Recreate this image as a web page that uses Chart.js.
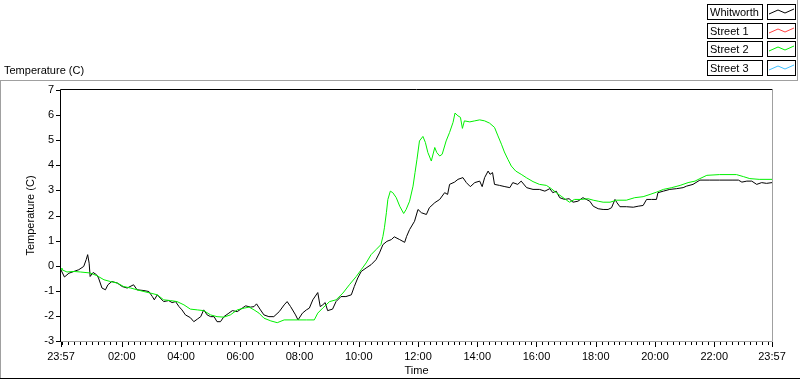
<!DOCTYPE html>
<html>
<head>
<meta charset="utf-8">
<script src="https://cdn.jsdelivr.net/npm/chart.js@4/dist/chart.umd.min.js"></script>
<style>
  html, body { margin: 0; padding: 0; background: #fff; }
  body { width: 800px; height: 380px; position: relative; overflow: hidden;
         font-family: "Liberation Sans", Arial, sans-serif; font-size: 11px; color: #000; }
  #chart { position: absolute; left: 0; top: 0; }
  .line { position: absolute; }
  #ytop { position: absolute; left: 4px; top: 64px; white-space: nowrap; }
  .lgRow { position: absolute; left: 707px; height: 15px; }
  .lgName { position: absolute; left: 0; top: 0; border: 1px solid #000;
            line-height: 14px; padding-left: 2px; box-sizing: border-box; width: 56px; height: 16px; white-space: nowrap; }
  .lgSwatch { position: absolute; left: 60px; top: 0; width: 29px; height: 16px; border: 1px solid #000; box-sizing: border-box; }
</style>
</head>
<body>
<canvas id="chart" width="800" height="380"></canvas>
<div class="line" style="left:0;top:80px;width:798px;height:1px;background:#a0a0a0"></div>
<div class="line" style="left:0;top:80px;width:1px;height:298px;background:#a0a0a0"></div>
<div class="line" style="left:0;top:378px;width:800px;height:1px;background:#000"></div>
<div class="line" style="left:797px;top:0;width:1px;height:81px;background:#a0a0a0"></div>
<div id="ytop">Temperature (C)</div>
<div id="legend"></div>
<script>
// series names and colours (legend order)
var seriesNames = ['Whitworth', 'Street 1', 'Street 2', 'Street 3'];
var seriesColors = ['#000000', '#ff4040', '#00f000', '#40c0ff'];

// minutes after 23:57 and temperature (C)
var whitworthTime = [0, 7, 16, 26, 36, 46, 51, 54, 57, 59, 65, 72, 76, 83, 90, 95, 103, 114, 124, 134,
  147, 154, 168, 178, 185, 189, 195, 201, 208, 218, 225, 232, 239, 245, 252, 262, 269, 276, 283, 289,
  296, 303, 310, 316, 323, 330, 340, 347, 357, 367, 374, 384, 391, 396, 404, 411, 421, 431, 442, 452,
  458, 465, 475, 480, 489, 497, 503, 510, 520, 525, 530, 535, 540, 550, 557, 567, 577, 588, 594, 601,
  608, 618, 628, 638, 645, 652, 660, 669, 675, 686, 696, 700, 706, 716, 723, 730, 740, 746, 757, 767,
  777, 783, 787, 797, 804, 814, 821, 829, 838, 848, 853, 858, 865, 869, 874, 878, 888, 899, 909, 915,
  925, 932, 943, 956, 969, 980, 990, 996, 1003, 1010, 1020, 1029, 1037, 1047, 1057, 1064, 1071, 1078, 1088, 1098,
  1108, 1115, 1122, 1126, 1132, 1145, 1159, 1169, 1179, 1186, 1196, 1206, 1209, 1220, 1233, 1247, 1260, 1267, 1280, 1294,
  1314, 1334, 1361, 1372, 1379, 1389, 1399, 1409, 1419, 1429, 1440];
var whitworthTemp = [-0.17, -0.45, -0.3, -0.23, -0.16, -0.03, 0.24, 0.44, 0.1, -0.43, -0.27, -0.36, -0.49, -0.89, -0.96, -0.76, -0.63, -0.69, -0.83, -0.89,
  -0.76, -0.96, -0.99, -1.03, -1.23, -1.36, -1.16, -1.29, -1.43, -1.39, -1.47, -1.43, -1.63, -1.76, -1.96, -2.07, -2.23, -2.13, -2.03, -1.76,
  -1.96, -2.03, -2.03, -2.23, -2.23, -2.03, -1.89, -1.79, -1.83, -1.69, -1.6, -1.65, -1.63, -1.52, -1.76, -1.96, -2.03, -2.03, -1.83, -1.56,
  -1.43, -1.63, -1.96, -2.16, -1.89, -1.76, -1.69, -1.36, -1.07, -1.63, -1.56, -1.47, -1.79, -1.73, -1.43, -1.23, -1.23, -1.16, -0.83, -0.49,
  -0.23, -0.09, 0.04, 0.24, 0.51, 0.84, 0.97, 1.04, 1.15, 1.04, 0.93, 1.17, 1.44, 1.77, 2.24, 2.11, 2.04, 2.31, 2.51, 2.64,
  2.91, 2.84, 3.24, 3.33, 3.44, 3.51, 3.31, 3.15, 3.31, 3.37, 3.15, 3.51, 3.77, 3.64, 3.71, 3.24, 3.2, 3.15, 3.11, 3.31,
  3.24, 3.37, 3.11, 3.04, 3.04, 2.97, 3.07, 2.91, 2.97, 2.71, 2.64, 2.67, 2.53, 2.57, 2.71, 2.64, 2.57, 2.37, 2.27, 2.24,
  2.24, 2.31, 2.64, 2.51, 2.35, 2.35, 2.33, 2.37, 2.4, 2.64, 2.64, 2.64, 2.91, 2.97, 3.04, 3.07, 3.11, 3.17, 3.24, 3.41,
  3.41, 3.41, 3.41, 3.41, 3.33, 3.37, 3.37, 3.24, 3.31, 3.28, 3.31];

var street2Time = [0, 2, 12, 26, 39, 59, 73, 87, 100, 114, 127, 141, 154, 168, 181, 195, 208, 222, 235, 249,
  262, 276, 289, 303, 316, 330, 343, 357, 371, 381, 391, 401, 411, 425, 438, 452, 479, 497, 513, 520,
  530, 544, 557, 571, 584, 598, 608, 618, 628, 638, 648, 652, 655, 659, 662, 667, 672, 679, 686, 694,
  699, 706, 713, 717, 721, 726, 733, 738, 743, 750, 757, 761, 767, 772, 780, 787, 794, 798, 804, 809,
  813, 817, 828, 838, 848, 858, 868, 878, 885, 892, 898, 905, 912, 921, 932, 943, 956, 969, 983, 993,
  1003, 1013, 1024, 1030, 1040, 1054, 1067, 1078, 1088, 1098, 1112, 1125, 1145, 1162, 1179, 1193, 1206, 1220, 1237, 1254,
  1270, 1284, 1294, 1308, 1334, 1368, 1382, 1395, 1414, 1440];
var street2Temp = [-0.1, -0.16, -0.25, -0.23, -0.25, -0.29, -0.4, -0.56, -0.63, -0.69, -0.83, -0.89, -0.96, -1.03, -1.09, -1.16, -1.36, -1.39, -1.43, -1.56,
  -1.73, -1.76, -1.79, -1.96, -2.03, -2.05, -1.96, -1.76, -1.69, -1.65, -1.76, -1.89, -2.09, -2.2, -2.27, -2.16, -2.16, -2.16, -2.16, -1.89,
  -1.69, -1.43, -1.36, -1.09, -0.76, -0.43, -0.16, 0.11, 0.44, 0.64, 0.84, 1.17, 1.51, 2.11, 2.64, 2.97, 2.91, 2.71, 2.37, 2.08,
  2.24, 2.57, 3.17, 3.71, 4.24, 4.97, 5.15, 4.91, 4.51, 4.17, 4.71, 4.51, 4.37, 4.44, 4.97, 5.31, 5.71, 6.08, 5.97, 5.91,
  5.47, 5.77, 5.73, 5.77, 5.81, 5.77, 5.68, 5.51, 5.17, 4.84, 4.53, 4.24, 3.97, 3.77, 3.64, 3.5, 3.35, 3.24, 3.2, 3.07,
  2.91, 2.77, 2.61, 2.53, 2.64, 2.64, 2.67, 2.61, 2.57, 2.53, 2.53, 2.61, 2.61, 2.71, 2.75, 2.84, 2.93, 3.04, 3.11, 3.2,
  3.31, 3.37, 3.47, 3.6, 3.63, 3.63, 3.55, 3.47, 3.44, 3.44];

// Street 1 and Street 3 have no visible trace
var street1Time = [], street1Temp = [];
var street3Time = [], street3Temp = [];

// axes
var yTicks = [-3, -2, -1, 0, 1, 2, 3, 4, 5, 6, 7];
var xTickMinutes = [0, 123, 243, 363, 483, 603, 723, 843, 963, 1083, 1203, 1323, 1440];
var xTickLabels = ['23:57', '02:00', '04:00', '06:00', '08:00', '10:00', '12:00', '14:00', '16:00', '18:00', '20:00', '22:00', '23:57'];

function pairs(t, v) {
  var out = [];
  for (var i = 0; i < t.length; i++) out.push({ x: t[i], y: v[i] });
  return out;
}

// legend boxes (html)
var legend = document.getElementById('legend');
for (var i = 0; i < seriesNames.length; i++) {
  var row = document.createElement('div');
  row.className = 'lgRow';
  row.style.top = (4 + i * 18.7).toFixed(0) + 'px';
  row.innerHTML = '<div class="lgName">' + seriesNames[i] + '</div>' +
    '<div class="lgSwatch"><svg width="27" height="14"><polyline points="1,9 10,5 17,8 26,4" fill="none" stroke="' +
    seriesColors[i] + '" stroke-width="1"/></svg></div>';
  legend.appendChild(row);
}

var font = { family: '"Liberation Sans", Arial, sans-serif', size: 11 };

// frame of the plot area and the tick marks
var frameTicks = {
  id: 'frameTicks',
  afterDraw: function(chart) {
    var ctx = chart.ctx, a = chart.chartArea;
    var xs = chart.scales.x, ys = chart.scales.y;
    ctx.save();
    ctx.lineWidth = 1;
    ctx.strokeStyle = '#000';
    ctx.beginPath();
    ctx.moveTo(a.left - 0.5, a.bottom + 1);
    ctx.lineTo(a.left - 0.5, a.top - 0.5);
    ctx.lineTo(a.right + 0.5, a.top - 0.5);
    ctx.stroke();
    ctx.strokeStyle = '#a0a0a0';
    ctx.beginPath();
    ctx.moveTo(a.right + 0.5, a.top - 0.5);
    ctx.lineTo(a.right + 0.5, a.bottom + 0.5);
    ctx.lineTo(a.left, a.bottom + 0.5);
    ctx.stroke();
    ctx.strokeStyle = '#000';
    ctx.beginPath();
    ys.ticks.forEach(function(t) {
      var y = Math.round(ys.getPixelForValue(t.value)) + 0.5;
      ctx.moveTo(a.left - 5, y);
      ctx.lineTo(a.left - 1, y);
    });
    xs.ticks.forEach(function(t) {
      var x = Math.round(xs.getPixelForValue(t.value)) + 0.5;
      var len = t.label ? 5 : 3;
      ctx.moveTo(x, a.bottom + 1);
      ctx.lineTo(x, a.bottom + 1 + len);
    });
    ctx.stroke();
    ctx.restore();
  }
};

var datasets = [];
var times = [whitworthTime, street1Time, street2Time, street3Time];
var temps = [whitworthTemp, street1Temp, street2Temp, street3Temp];
for (var d = 0; d < seriesNames.length; d++) {
  datasets.push({
    label: seriesNames[d],
    data: pairs(times[d], temps[d]),
    borderColor: seriesColors[d],
    borderWidth: 1,
    pointRadius: 0,
    tension: 0,
    fill: false,
    order: seriesNames.length - d
  });
}

new Chart(document.getElementById('chart'), {
  type: 'line',
  data: { datasets: datasets },
  plugins: [frameTicks],
  options: {
    responsive: false,
    animation: false,
    devicePixelRatio: 1,
    layout: { padding: { top: 90, right: 28, left: 0, bottom: 0 } },
    plugins: { legend: { display: false }, tooltip: { enabled: false } },
    scales: {
      x: {
        type: 'linear', min: 0, max: 1440,
        afterBuildTicks: function(scale) {
          var ticks = [{ value: 0 }];
          for (var m = 3; m < 1440; m += 12) ticks.push({ value: m });
          ticks.push({ value: 1440 });
          scale.ticks = ticks;
        },
        afterFit: function(scale) { scale.height = 39; },
        grid: { drawOnChartArea: false, drawTicks: false },
        border: { display: false },
        ticks: {
          autoSkip: false, maxRotation: 0, padding: 9, color: '#000', font: font,
          callback: function(v, i) {
            if (i === 1) return '';
            var k = xTickMinutes.indexOf(v);
            return k >= 0 ? xTickLabels[k] : '';
          }
        },
        title: { display: true, text: 'Time', color: '#000', font: font, padding: { top: 0, bottom: 2 } }
      },
      y: {
        min: -3, max: 7,
        afterBuildTicks: function(scale) {
          scale.ticks = yTicks.map(function(v) { return { value: v }; });
        },
        afterFit: function(scale) { scale.width = 61; },
        grid: { drawOnChartArea: false, drawTicks: false },
        border: { display: false },
        ticks: { padding: 7, color: '#000', font: font },
        title: { display: true, text: 'Temperature (C)', color: '#000', font: font, padding: { top: 24, bottom: 0 } }
      }
    }
  }
});
</script>
</body>
</html>
